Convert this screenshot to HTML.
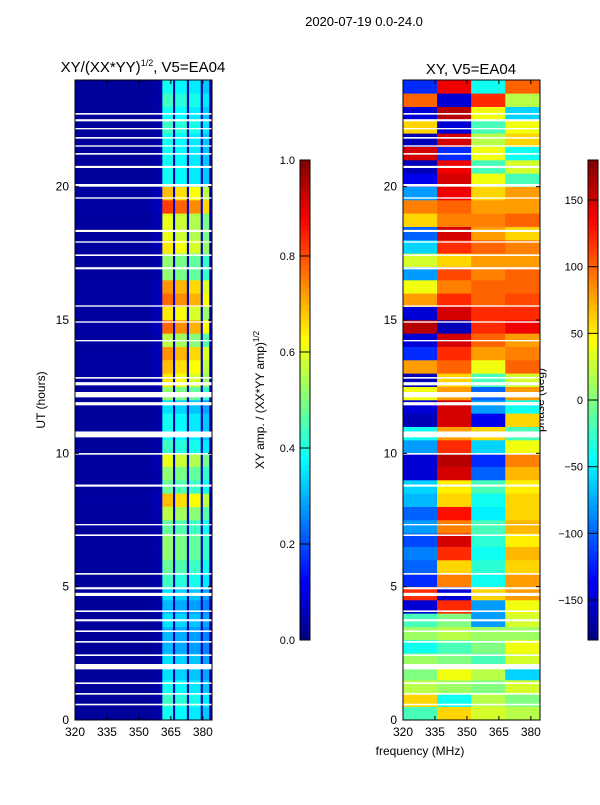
<!DOCTYPE html>
<html><head><meta charset="utf-8">
<style>
body{margin:0;background:#fff;width:600px;height:800px;overflow:hidden;font-family:"Liberation Sans",sans-serif}
svg text{font-family:"Liberation Sans",sans-serif;fill:#000}
</style></head><body>
<svg id="fig" width="600" height="800" xmlns="http://www.w3.org/2000/svg">
<text x="364" y="26" font-size="13" text-anchor="middle">2020-07-19 0.0-24.0</text>
<text x="143" y="72" font-size="15" text-anchor="middle">XY/(XX*YY)<tspan font-size="9" dy="-6">1/2</tspan><tspan dy="6">, V5=EA04</tspan></text>
<text x="471" y="74" font-size="15" text-anchor="middle">XY, V5=EA04</text>
<text x="45" y="400" font-size="12" text-anchor="middle" transform="rotate(-90 45 400)">UT (hours)</text>
<text x="420" y="755" font-size="12" text-anchor="middle">frequency (MHz)</text>
<text x="264" y="400" font-size="12" text-anchor="middle" transform="rotate(-90 264 400)">XY amp. / (XX*YY amp)<tspan font-size="8" dy="-5">1/2</tspan></text>
<text x="544" y="400" font-size="12" text-anchor="middle" transform="rotate(-90 544 400)">phase (deg)</text>
<g id="left"></g>
<g id="right"></g>
<g id="axes"></g>
</svg>
<script>
// ---- data ----
const timeRowStep = 0.5; // hours per row
const ampRowLevel = [0.4,0.45,0.4,0.35,0.35,0.3,0.3,0.35,0.3,0.35,0.45,0.5,0.55,0.55,0.5,0.6,0.75,0.5,0.55,0.65,0.45,0.4,0.4,0.35,0.55,0.7,0.75,0.8,0.6,0.85,0.7,0.85,0.8,0.55,0.55,0.7,0.65,0.65,0.9,0.75,0.4,0.4,0.4,0.4,0.45,0.4,0.45,0.4];
const freqEdges = [320,356,360.5,361,366,367,372.5,373.5,379,380,383,384.3];
const freqWeight = [0.02,0.05,0.15,1.0,0.08,0.95,0.08,0.9,0.1,0.8,0.05];
const phaseFreqEdges = [320,336,352,368,384.3];
const phaseRows = [
[-20,60,30,20],[60,-40,20,0],[20,10,0,30],[0,40,20,-60],[10,0,-20,30],[-40,-20,0,40],[10,20,10,10],[-20,0,-80,30],
[-150,120,-80,40],[120,-150,60,80],[-120,90,-40,80],[-100,60,-30,60],[-90,120,-40,70],[-110,150,-30,50],[-80,90,-20,70],[-100,130,-50,60],
[-70,60,-40,60],[-60,50,-20,50],[-150,150,-100,70],[-150,160,-120,90],[-80,120,-60,40],[-40,80,60,-20],[-160,150,-140,60],[-150,150,-80,-40],
[40,80,-100,80],[-160,60,-20,30],[80,100,40,100],[-120,120,80,90],[-150,150,100,80],[160,-160,120,140],[-150,150,120,120],[80,120,100,110],
[40,90,100,100],[-80,110,90,100],[30,60,80,80],[-60,120,100,90],[-100,150,80,60],[60,90,90,100],[90,100,80,80],[-80,140,60,80],
[-140,150,40,-20],[-160,140,-20,30],[150,-120,40,-40],[-160,150,20,60],[60,-150,-20,40],[-150,160,40,-60],[100,-150,120,20],[-120,140,-40,100]];
const flagStart = [0.55,0.95,1.35,1.9,2.4,2.9,3.3,3.7,4.05,4.65,4.9,5.45,6.9,7.3,8.75,9.95,10.6,11.8,12.1,12.55,12.8,14.2,14.9,15.5,16.9,17.4,17.9,18.3,19.55,20.0,20.7,21.2,21.5,21.8,22.15,22.45,22.7];
const flagWidth = [0.06,0.06,0.06,0.2,0.06,0.06,0.06,0.08,0.06,0.12,0.08,0.06,0.06,0.05,0.08,0.06,0.22,0.12,0.2,0.12,0.06,0.05,0.05,0.05,0.08,0.06,0.05,0.08,0.05,0.1,0.08,0.06,0.05,0.06,0.05,0.08,0.06];
const yTicks = [0,5,10,15,20];
const xTicks = [320,335,350,365,380];
const ampTicks = [0.0,0.2,0.4,0.6,0.8,1.0];
const phaseTicks = [-150,-100,-50,0,50,100,150];

// ---- helpers ----
const NS='http://www.w3.org/2000/svg';
function jet(v){v=Math.max(0,Math.min(1,v));
 const r=Math.max(0,Math.min(1,1.5-Math.abs(4*v-3))),g=Math.max(0,Math.min(1,1.5-Math.abs(4*v-2))),b=Math.max(0,Math.min(1,1.5-Math.abs(4*v-1)));
 return `rgb(${Math.round(r*255)},${Math.round(g*255)},${Math.round(b*255)})`;}
function mk(tag,attrs,parent){const e=document.createElementNS(NS,tag);for(const k in attrs)e.setAttribute(k,attrs[k]);parent.appendChild(e);return e;}
const panels=[{x0:75,g:'left'},{x0:403,g:'right'}];
const PW=137,PT=80,PB=720;
function yScale(h){return PB-(h/24)*(PB-PT);}
function xScale(p,f){return p.x0+(f-320)/(384.3-320)*PW;}

// left heatmap
const gl=document.getElementById('left');
ampRowLevel.forEach((lvl,r)=>{
 const y1=yScale((r+1)*timeRowStep),y0=yScale(r*timeRowStep);
 freqWeight.forEach((w,c)=>{
  const v=(w>0.5)?(0.05+lvl*w*0.85):(0.02+lvl*w*0.8);
  const e=mk('rect',{x:xScale(panels[0],freqEdges[c]),y:y1,width:xScale(panels[0],freqEdges[c+1])-xScale(panels[0],freqEdges[c])+0.3,height:y0-y1+0.3,fill:jet(v)},gl);
  
  
 });
});
// right heatmap
const gr=document.getElementById('right');
phaseRows.forEach((row,r)=>{
 const y1=yScale((r+1)*timeRowStep),y0=yScale(r*timeRowStep);
 row.forEach((ph,c)=>{
  const e=mk('rect',{x:xScale(panels[1],phaseFreqEdges[c]),y:y1,width:xScale(panels[1],phaseFreqEdges[c+1])-xScale(panels[1],phaseFreqEdges[c])+0.3,height:y0-y1+0.3,fill:jet((ph+180)/360)},gr);
  
  
 });
});
// flags
const ga=document.getElementById('axes');
panels.forEach(p=>{
 flagStart.forEach((s,i)=>{
  const e=mk('rect',{x:p.x0,y:yScale(s+flagWidth[i]),width:PW,height:yScale(s)-yScale(s+flagWidth[i]),fill:'#fff'},ga);
  
  
 });
 const fr=mk('rect',{x:p.x0,y:PT,width:PW,height:PB-PT,fill:'none',stroke:'#000','stroke-width':1},ga);
 
 
 yTicks.forEach(t=>{
  const y=yScale(t);
  mk('line',{x1:p.x0,x2:p.x0+4,y1:y,y2:y,stroke:'#000'},ga);
  mk('line',{x1:p.x0+PW,x2:p.x0+PW-4,y1:y,y2:y,stroke:'#000'},ga);
  const tx=mk('text',{x:p.x0-6,y:y+4,'font-size':12,'text-anchor':'end'},ga);tx.textContent=t;
  
  
 });
 xTicks.forEach(t=>{
  const x=xScale(p,t);
  mk('line',{x1:x,x2:x,y1:PB,y2:PB-4,stroke:'#000'},ga);
  mk('line',{x1:x,x2:x,y1:PT,y2:PT+4,stroke:'#000'},ga);
  const tx=mk('text',{x:x,y:PB+16,'font-size':12,'text-anchor':'middle'},ga);tx.textContent=t;
  
  
 });
});
// colorbars
function colorbar(x,ticks,lo,hi,name){
 for(let i=0;i<96;i++){
  const y=640-(i+1)*5;
  const e=mk('rect',{x:x,y:y,width:10,height:5.3,fill:jet((i+0.5)/96)},ga);
  
  
 }
 const f=mk('rect',{x:x,y:160,width:10,height:480,fill:'none',stroke:'#000'},ga);
 
 
 ticks.forEach(t=>{
  const y=640-(t-lo)/(hi-lo)*480;
  mk('line',{x1:x,x2:x+10,y1:y,y2:y,stroke:'#000'},ga);
  const tx=mk('text',{x:x-5,y:y+4,'font-size':11,'text-anchor':'end'},ga);
  tx.textContent=(name==='amp-colorbar')?t.toFixed(1):(t<0?'\u2212'+(-t):t);
  
  
 });
}
colorbar(300,ampTicks,0,1,'amp-colorbar');
colorbar(588,phaseTicks,-180,180,'phase-colorbar');
</script>
</body></html>
